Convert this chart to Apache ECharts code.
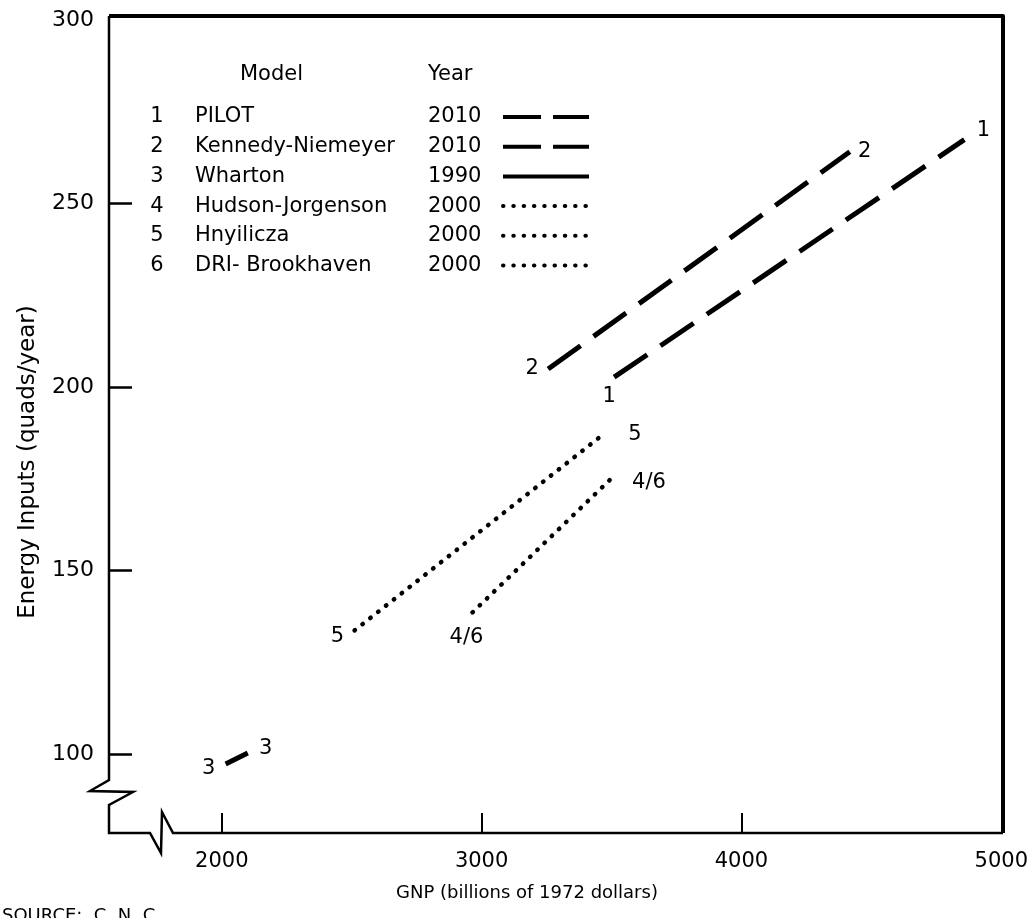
<!DOCTYPE html>
<html>
<head>
<meta charset="utf-8">
<script src="https://cdn.jsdelivr.net/npm/echarts@6/dist/echarts.min.js"></script>
<style>
  html, body { margin: 0; padding: 0; background: #fff; }
  #main { width: 1031px; height: 918px; }
</style>
</head>
<body>
<div id="main"></div>
<script>
// legend table
var modelNums = ['1', '2', '3', '4', '5', '6'];
var modelNames = ['PILOT', 'Kennedy-Niemeyer', 'Wharton', 'Hudson-Jorgenson', 'Hnyilicza', 'DRI- Brookhaven'];
var modelYears = ['2010', '2010', '1990', '2000', '2000', '2000'];

// axis ticks
var xTicks = [2000, 3000, 4000, 5000];
var yTicks = [100, 150, 200, 250, 300];

// projections: [start, end]
var pilotGnp = [3510, 4858];
var pilotEnergy = [202.7, 267.4];
var kennedyGnp = [3256, 4417];
var kennedyEnergy = [204.9, 264.1];
var whartonGnp = [2015, 2100];
var whartonEnergy = [97.3, 100.3];
var hnyiliczaGnp = [2511, 3475];
var hnyiliczaEnergy = [133.7, 187.5];
var hudsonDriGnp = [2965, 3498];
var hudsonDriEnergy = [138.6, 175.0];

var FONT = 'DejaVu Sans';
var G = { left: 109, top: 16, right: 1003, bottom: 833 };

var dashed = { width: 5, type: [40, 16], cap: 'butt' };
var solid = { width: 5, type: 'solid', cap: 'butt' };
var dotted = { width: 4.5, type: [0.5, 9.5], cap: 'round' };

function mkSeries(name, xs, ys, tags, offsets, style) {
    return {
        name: name,
        type: 'line',
        symbol: 'circle',
        symbolSize: 1,
        showSymbol: true,
        itemStyle: { color: 'rgba(0,0,0,0)' },
        lineStyle: Object.assign({ color: '#000' }, style),
        emphasis: { disabled: true },
        data: xs.map(function (x, i) {
            return {
                value: [x, ys[i]],
                label: {
                    show: true,
                    position: 'inside',
                    formatter: tags[i],
                    offset: offsets[i],
                    color: '#000',
                    fontFamily: FONT,
                    fontSize: 21
                }
            };
        })
    };
}

var series = [
    mkSeries('PILOT', pilotGnp, pilotEnergy, ['1', '1'], [[-5, 19], [19, -9]], dashed),
    mkSeries('Kennedy-Niemeyer', kennedyGnp, kennedyEnergy, ['2', '2'], [[-16, -1], [15, 0]], dashed),
    mkSeries('Wharton', whartonGnp, whartonEnergy, ['3', '3'], [[-17, 5], [18, -4]], solid),
    mkSeries('Hnyilicza', hnyiliczaGnp, hnyiliczaEnergy, ['5', '5'], [[-17, 6], [30, 2]], dotted),
    mkSeries('Hudson-Jorgenson / DRI', hudsonDriGnp, hudsonDriEnergy, ['4/6', '4/6'], [[-6, 25], [38, 4]], dotted)
];

// legend drawn as a small table
var legendEls = [];
var rowY0 = 117, rowH = 29.7;
function txt(x, y, s, align) {
    return {
        type: 'text', x: x, y: y, silent: true,
        style: { text: s, fill: '#000', font: '21px "' + FONT + '"', align: align || 'left', verticalAlign: 'middle' }
    };
}
legendEls.push(txt(240, 75, 'Model'));
legendEls.push(txt(428, 75, 'Year'));
var sampleStyles = [dashed, dashed, solid, dotted, dotted, dotted];
modelNames.forEach(function (nm, i) {
    var y = rowY0 + i * rowH;
    legendEls.push(txt(157, y, modelNums[i], 'center'));
    legendEls.push(txt(195, y, nm));
    legendEls.push(txt(428, y, modelYears[i]));
    var st = sampleStyles[i];
    var dash = st === dashed ? [38, 12] : (st === dotted ? [0.5, 9.8] : null);
    legendEls.push({
        type: 'line', silent: true,
        shape: { x1: 503, y1: y, x2: 589, y2: y },
        style: { stroke: '#000', lineWidth: 4, lineDash: dash, lineCap: st === dotted ? 'round' : 'butt' }
    });
});

// frame with axis breaks
var frameEls = [
    {
        type: 'polyline', silent: true,
        shape: { points: [[G.left, G.top], [G.right, G.top], [G.right, G.bottom]] },
        style: { stroke: '#000', lineWidth: 4, fill: null, lineJoin: 'round' }
    },
    {
        type: 'polyline', silent: true,
        shape: {
            points: [
                [G.left, G.top], [G.left, 780], [90, 791], [133, 792], [G.left, 805], [G.left, G.bottom],
                [150, G.bottom], [161, 853], [162, 812], [173, G.bottom], [G.right, G.bottom]
            ]
        },
        style: { stroke: '#000', lineWidth: 2.5, fill: null, lineJoin: 'miter' }
    },
    {
        type: 'text', silent: true, x: 527, y: 893,
        style: { text: 'GNP (billions of 1972 dollars)', fill: '#000', font: '18px "' + FONT + '"', align: 'center', verticalAlign: 'middle' }
    },
    {
        type: 'text', silent: true, x: 28, y: 462, rotation: Math.PI / 2,
        style: { text: 'Energy Inputs (quads/year)', fill: '#000', font: '23px "' + FONT + '"', align: 'center', verticalAlign: 'middle' }
    },
    {
        type: 'text', silent: true, x: 2, y: 907,
        style: { text: 'SOURCE:  C. N. C', fill: '#000', font: '18px "' + FONT + '"', align: 'left', verticalAlign: 'top' }
    }
];

var chart = echarts.init(document.getElementById('main'), null, { renderer: 'canvas' });
var option = {
    backgroundColor: '#fff',
    animation: false,
    grid: { left: G.left, top: G.top, right: 1031 - G.right, bottom: 918 - G.bottom },
    xAxis: {
        type: 'value',
        min: 1566,
        max: 5000,
        splitLine: { show: false },
        axisLine: { show: false },
        axisTick: { show: true, inside: true, length: 20, customValues: xTicks.slice(0, 3), lineStyle: { color: '#000', width: 2 } },
        axisLabel: {
            customValues: xTicks, color: '#000', fontFamily: FONT, fontSize: 21, margin: 18,
            formatter: function (v) { return String(v); }
        }
    },
    yAxis: {
        type: 'value',
        min: 78.5,
        max: 301.1,
        splitLine: { show: false },
        axisLine: { show: false },
        axisTick: { show: true, inside: true, length: 23, customValues: yTicks.slice(0, 4), lineStyle: { color: '#000', width: 2.5 } },
        axisLabel: {
            customValues: yTicks, color: '#000', fontFamily: FONT, fontSize: 22, margin: 15,
            formatter: function (v) { return String(v); }
        }
    },
    graphic: legendEls.concat(frameEls),
    series: series
};
chart.setOption(option);
</script>
</body>
</html>
